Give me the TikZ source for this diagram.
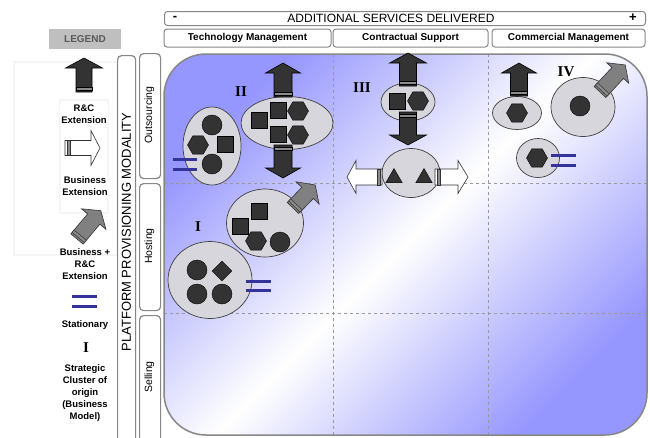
\documentclass[tikz,border=0pt]{standalone}
\usepackage{fontspec}
\setmainfont{Liberation Sans}
\newfontfamily\serifnum{Liberation Serif}
\usetikzlibrary{shapes.geometric}
\definecolor{qblue}{RGB}{150,150,255}
\definecolor{dk}{RGB}{51,51,51}
\definecolor{statblue}{RGB}{51,51,153}
\definecolor{ellfill}{RGB}{214,214,220}
\definecolor{framegray}{RGB}{135,135,135}
% #1 style, #2 base, #3 angle, #4 length, #5 shaft width, #6 head width, #7 head length
\newcommand\blockarr[7]{%
  \begin{scope}[shift={#2},rotate=#3]
    \filldraw[#1] (0,{-#5/2}) -- ({#4-#7},{-#5/2}) -- ({#4-#7},{-#6/2}) -- (#4,0)
      -- ({#4-#7},{#6/2}) -- ({#4-#7},{#5/2}) -- (0,{#5/2}) -- cycle;
    \filldraw[#1, fill=black!45, line width=0.5pt] (2,{-#5/2}) rectangle (5,{#5/2});
  \end{scope}}
\begin{document}
\begin{tikzpicture}[x=1pt,y=-1pt,
  cl/.style={ellipse, draw=black!75, fill=ellfill, line width=0.7pt, inner sep=0pt},
  sq/.style={rectangle, fill=dk, draw=black, line width=0.4pt, minimum size=16pt, inner sep=0pt},
  hex/.style={regular polygon, regular polygon sides=6, minimum size=21pt, fill=dk, draw=black, line width=0.4pt, inner sep=0pt},
  dot/.style={circle, minimum size=20pt, fill=dk, draw=black, line width=0.4pt, inner sep=0pt},
  dia/.style={diamond, minimum size=20pt, fill=dk, draw=black, line width=0.4pt, inner sep=0pt},
  tri/.style={regular polygon, regular polygon sides=3, minimum size=19pt, fill=dk, draw=black, line width=0.4pt, inner sep=0pt},
  darkarr/.style={fill=dk, draw=black, line width=0.6pt},
  whitearr/.style={fill=white, draw=black!80, line width=0.6pt},
  grayarr/.style={fill=black!50, draw=black!80, line width=0.6pt},
  stat/.style={draw=statblue, line width=3pt},
  numeral/.style={font=\serifnum\bfseries\fontsize{15}{15}\selectfont, inner sep=0pt},
  hdrbox/.style={draw=framegray, line width=1pt, rounded corners=3pt, fill=white, inner sep=0pt},
  sidebox/.style={draw=framegray, line width=1.2pt, rounded corners=4pt, fill=white, inner sep=0pt},
  legtxt/.style={align=center, font=\bfseries\fontsize{9.5}{12}\selectfont, inner sep=1pt},
  grid/.style={draw=black!40, dashed, line width=0.6pt}
]
\useasboundingbox (0,0) rectangle (650,437);
\fill[white] (0,0) rectangle (650,437);

% legend faint frames
\draw[black!4, line width=1.5pt] (14,62) rectangle (117,255);
\draw[black!4, line width=1.5pt] (60,100) rectangle (108,213);

% top header
\node[hdrbox, minimum width=481pt, minimum height=14pt, anchor=north west] (addbar) at (164,11) {};
\node[font=\fontsize{12}{12}\selectfont, inner sep=0pt] (addtxt) at (391,18.5) {ADDITIONAL SERVICES DELIVERED};
\node[font=\bfseries\fontsize{13}{13}\selectfont, inner sep=0pt] (minus) at (175,18) {-};
\node[font=\bfseries\fontsize{13}{13}\selectfont, inner sep=0pt] (plus) at (633,18) {+};

% column headers
\node[hdrbox, minimum width=167pt, minimum height=18pt, font=\bfseries\fontsize{10}{12}\selectfont] (tm) at (247.5,38) {Technology Management};
\node[hdrbox, minimum width=155pt, minimum height=18pt, font=\bfseries\fontsize{10}{12}\selectfont] (cs) at (410.5,38) {Contractual Support};
\node[hdrbox, minimum width=153pt, minimum height=18pt, font=\bfseries\fontsize{10}{12}\selectfont] (cm) at (568.5,38) {Commercial Management};

% legend title
\node[fill=black!25, minimum width=72pt, minimum height=20pt, text=black!65, font=\bfseries\fontsize{10}{12}\selectfont] (legend) at (85,39) {LEGEND};

% side bars
\node[sidebox, minimum width=18pt, minimum height=390pt, anchor=north west] (ppm) at (117,55) {};
\node[rotate=90, font=\fontsize{13}{13}\selectfont, inner sep=0pt] (ppmtxt) at (126.5,232) {PLATFORM PROVISIONING MODALITY};
\node[sidebox, minimum width=21pt, minimum height=125pt, anchor=north west] (outs) at (139,53) {};
\node[rotate=90, font=\fontsize{10.5}{12}\selectfont, inner sep=0pt] (outstxt) at (149.5,115) {Outsourcing};
\node[sidebox, minimum width=21pt, minimum height=127pt, anchor=north west] (host) at (139,183) {};
\node[rotate=90, font=\fontsize{10.5}{12}\selectfont, inner sep=0pt] (hosttxt) at (149.5,246) {Hosting};
\node[sidebox, minimum width=21pt, minimum height=130pt, anchor=north west] (sell) at (139,315) {};
\node[rotate=90, font=\fontsize{10.5}{12}\selectfont, inner sep=0pt] (selltxt) at (149.5,377) {Selling};

% main area
\shade[top color=qblue, bottom color=qblue, middle color=white, shading angle=45, rounded corners=42pt] (164,54) rectangle (647,435);
\draw[grid] (333,54) -- (333,435);
\draw[grid] (488,54) -- (488,435);
\draw[grid] (164,183) -- (647,183);
\draw[grid] (164,313) -- (647,313);
\draw[framegray, line width=1.5pt, rounded corners=42pt] (164,54) rectangle (647,435);

% legend items
\blockarr{darkarr}{(84,92)}{90}{34}{16}{37}{10}
\node[legtxt, fill=white] (lg1) at (84,114) {R\&C\\Extension};
\blockarr{whitearr}{(65,148)}{0}{35}{15}{35}{9}
\node[legtxt, fill=white] (lg2) at (85,186) {Business\\Extension};
\blockarr{grayarr}{(77,239)}{50}{37}{16}{32}{11}
\node[legtxt] (lg3) at (85,264) {Business +\\R\&C\\Extension};
\draw[stat] (72,296) -- (97,296);
\draw[stat] (72,306) -- (97,306);
\node[legtxt] (lg4) at (85,325) {Stationary};
\node[numeral] (lgI) at (86,348) {I};
\node[legtxt] (lg5) at (85,393) {Strategic\\Cluster of\\origin\\(Business\\Model)};

% ---- cluster II ----
\node[cl, minimum width=58pt, minimum height=78pt] (e2a) at (212,146) {};
\node[cl, minimum width=92pt, minimum height=53pt] (e2b) at (287,123) {};
\blockarr{darkarr}{(283,97)}{90}{34}{18}{35}{10}
\blockarr{darkarr}{(283,145)}{-90}{33}{18}{35}{10}
\node[dot] (s1) at (212,125) {};
\node[hex] (s2) at (198,145) {};
\node[sq] (s3) at (225,144) {};
\node[dot] (s4) at (212,164) {};
\node[sq] (s5) at (259,120) {};
\node[sq] (s6) at (278,110) {};
\node[hex] (s7) at (298,111) {};
\node[sq] (s8) at (278,134) {};
\node[hex] (s9) at (298,135) {};
\draw[stat] (173,159) -- (197,159);
\draw[stat] (173,169) -- (197,169);
\node[numeral] (nII) at (241,92) {II};

% ---- cluster I ----
\node[cl, minimum width=77pt, minimum height=68pt] (e1a) at (265,223) {};
\node[cl, minimum width=84pt, minimum height=77pt] (e1b) at (210,280) {};
\blockarr{grayarr}{(293,208)}{46}{32}{16}{32}{11}
\node[sq] (t1) at (259,211) {};
\node[sq] (t2) at (240,226) {};
\node[hex] (t3) at (256,241) {};
\node[dot] (t4) at (280,242) {};
\node[dot] (t5) at (197,270) {};
\node[dia] (t6) at (222,271) {};
\node[dot] (t7) at (197,294) {};
\node[dot] (t8) at (222,294) {};
\draw[stat] (246,281) -- (271,281);
\draw[stat] (246,290) -- (271,290);
\node[numeral] (nI) at (198,227) {I};

% ---- cluster III ----
\node[cl, minimum width=54pt, minimum height=38pt] (e3a) at (408,102) {};
\node[cl, minimum width=58pt, minimum height=49pt] (e3b) at (411,173) {};
\blockarr{darkarr}{(408,86)}{90}{33}{17}{37}{10}
\blockarr{darkarr}{(408,112)}{-90}{33}{17}{37}{10}
\blockarr{whitearr}{(382,177)}{180}{35}{16}{33}{9}
\blockarr{whitearr}{(435,177)}{0}{33}{16}{33}{10}
\node[sq] (u1) at (397,101) {};
\node[hex] (u2) at (418,101) {};
\node[tri] (u3) at (394,178) {};
\node[tri] (u4) at (424,178) {};
\node[numeral] (nIII) at (362,88) {III};

% ---- cluster IV ----
\node[cl, minimum width=49pt, minimum height=33pt] (e4a) at (517,113) {};
\node[cl, minimum width=64pt, minimum height=59pt] (e4b) at (583,107) {};
\node[cl, minimum width=43pt, minimum height=39pt] (e4c) at (538,158) {};
\blockarr{darkarr}{(519,96)}{90}{33}{17}{35}{10}
\blockarr{grayarr}{(600,92)}{47}{37}{16}{30}{11}
\node[hex] (v1) at (517,113) {};
\node[dot] (v2) at (580,106) {};
\node[hex] (v3) at (537,158) {};
\draw[stat] (551,155) -- (576,155);
\draw[stat] (551,165) -- (576,165);
\node[numeral] (nIV) at (566,72) {IV};
\end{tikzpicture}
\end{document}
